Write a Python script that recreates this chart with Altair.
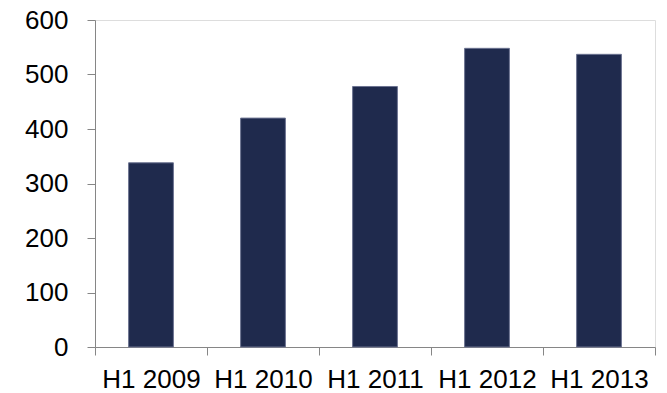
import altair as alt
import pandas as pd

# Half-year totals
periods = ["H1 2009", "H1 2010", "H1 2011", "H1 2012", "H1 2013"]
values = [338, 420, 478, 548, 537]

# Y axis tick values
y_ticks = [0, 100, 200, 300, 400, 500, 600]

df = pd.DataFrame({"period": periods, "value": values})

axis_gray = "#868686"
font = "Liberation Sans"

chart = (
    alt.Chart(df)
    .mark_bar(
        color="#1F2A4D",
        stroke="#6c7391",
        strokeWidth=1,
        width=alt.RelativeBandSize(0.4),
    )
    .encode(
        x=alt.X(
            "period:N",
            sort=periods,
            title=None,
            # full-width bands so that band-edge ticks fall between the categories
            scale=alt.Scale(paddingInner=0, paddingOuter=0),
            axis=alt.Axis(
                labelAngle=0,
                tickBand="extent",
                tickSize=8,
                labelPadding=11,
                labelFontSize=26,
                labelFont=font,
                labelColor="#000000",
                domainColor=axis_gray,
                tickColor=axis_gray,
                domainWidth=1,
                tickWidth=1,
                labelOverlap=False,
                labelBound=False,
                labelFlush=False,
            ),
        ),
        y=alt.Y(
            "value:Q",
            title=None,
            scale=alt.Scale(domain=[0, 600], nice=False, zero=True),
            axis=alt.Axis(
                values=y_ticks,
                grid=False,
                tickSize=8,
                labelPadding=19,
                labelFontSize=26,
                labelFont=font,
                labelColor="#000000",
                domainColor=axis_gray,
                tickColor=axis_gray,
                domainWidth=1,
                tickWidth=1,
            ),
        ),
    )
    .properties(
        width=560,
        height=327,
        autosize=alt.AutoSizeParams(type="none"),
        padding={"left": 95, "top": 20, "right": 12, "bottom": 46},
    )
    .configure_view(stroke=None)
    .configure(background="#ffffff")
)

chart.save("out.html", embed_options={"renderer": "svg", "actions": False})
